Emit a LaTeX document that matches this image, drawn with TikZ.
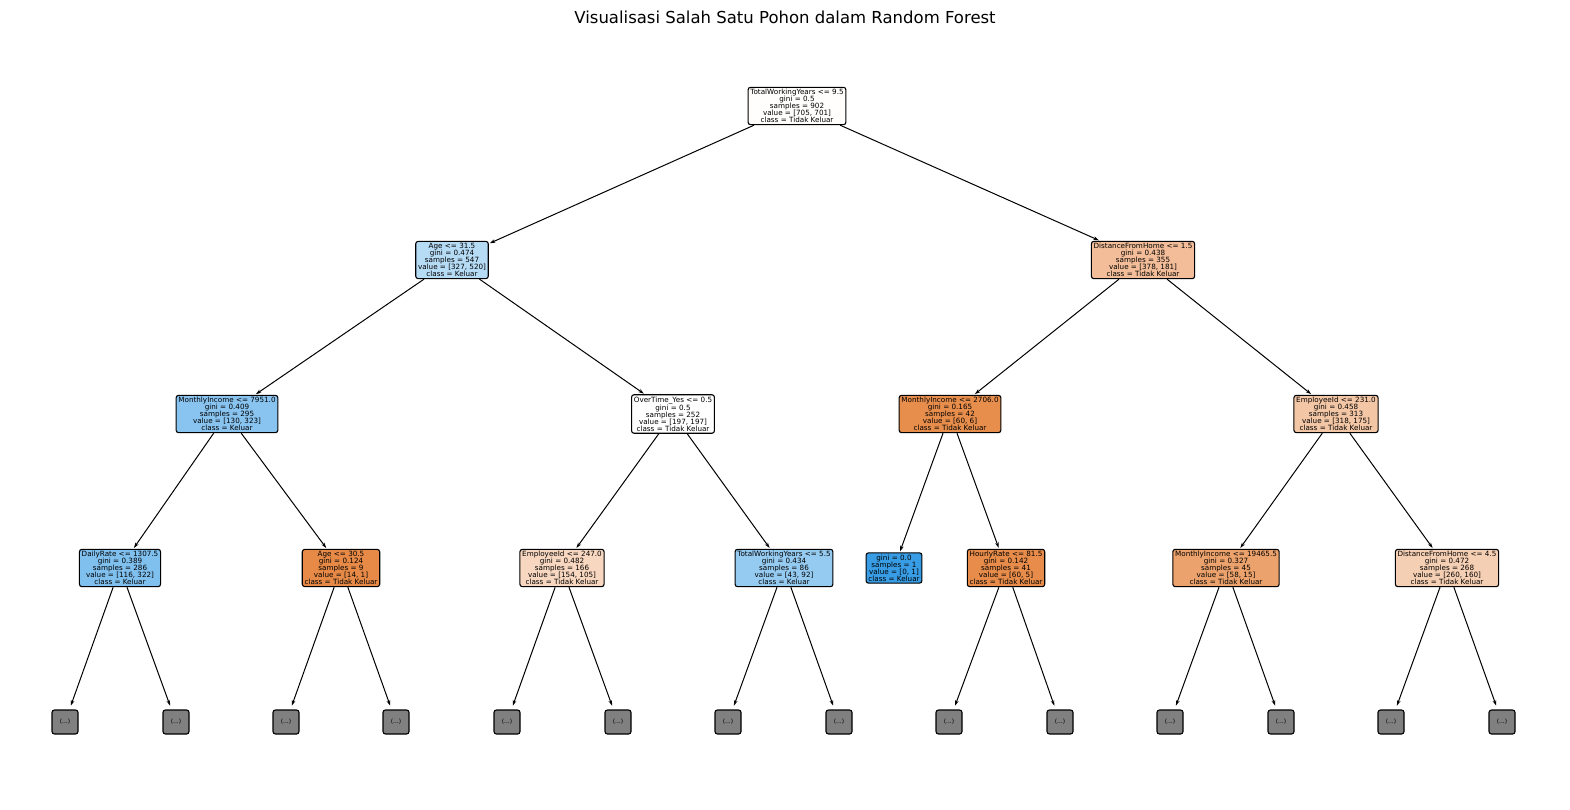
\documentclass[tikz,border=0pt]{standalone}
\usepackage{fontspec}
\setmainfont{DejaVu Sans}
\usetikzlibrary{arrows.meta}
\definecolor{cRoot}{RGB}{255,254,253}
\definecolor{cAgeA}{RGB}{182,219,245}
\definecolor{cDistA}{RGB}{242,189,152}
\definecolor{cMonA}{RGB}{137,196,240}
\definecolor{cOver}{RGB}{255,255,255}
\definecolor{cMonB}{RGB}{232,142,77}
\definecolor{cEmpA}{RGB}{243,198,166}
\definecolor{cDaily}{RGB}{128,192,238}
\definecolor{cAgeB}{RGB}{231,138,71}
\definecolor{cEmpB}{RGB}{247,215,192}
\definecolor{cTwy}{RGB}{150,203,241}
\definecolor{cPure}{RGB}{57,157,229}
\definecolor{cHour}{RGB}{231,140,74}
\definecolor{cMonC}{RGB}{236,162,108}
\definecolor{cDistB}{RGB}{245,207,179}
\definecolor{cLeaf}{RGB}{128,128,128}
\tikzset{
  treenode/.style={draw=black, line width=1.1pt, rounded corners=2.5pt, align=center,
    font=\fontsize{7.2}{7}\selectfont, inner xsep=2.3pt, inner ysep=1.9pt},
  leafnode/.style={draw=black, line width=1.1pt, rounded corners=2.5pt, fill=cLeaf,
    minimum width=26pt, minimum height=24pt, inner sep=0pt, font=\fontsize{6}{7}\selectfont},
  edge/.style={draw=black, line width=1pt, -{Stealth[length=5.5pt,width=3.6pt]}, shorten >=1pt},
  leafedge/.style={edge, shorten >=4pt}
}
\begin{document}
\begin{tikzpicture}[x=1pt,y=-1pt]
\useasboundingbox[fill=white] (0,0) rectangle (1570,810);
\node[font=\fontsize{16.5}{18}\selectfont] (title) at (785,17) {Visualisasi Salah Satu Pohon dalam Random Forest};
% level 1
\node[treenode, fill=cRoot] (n0) at (797,106) {TotalWorkingYears <= 9.5\\gini = 0.5\\samples = 902\\value = [705, 701]\\class = Tidak Keluar};
% level 2
\node[treenode, fill=cAgeA] (n1) at (452,260) {Age <= 31.5\\gini = 0.474\\samples = 547\\value = [327, 520]\\class = Keluar};
\node[treenode, fill=cDistA] (n2) at (1143,260) {DistanceFromHome <= 1.5\\gini = 0.438\\samples = 355\\value = [378, 181]\\class = Tidak Keluar};
% level 3
\node[treenode, fill=cMonA] (n3) at (227,414) {MonthlyIncome <= 7951.0\\gini = 0.409\\samples = 295\\value = [130, 323]\\class = Keluar};
\node[treenode, fill=cOver] (n4) at (673,414) {OverTime\_Yes <= 0.5\\gini = 0.5\\samples = 252\\value = [197, 197]\\class = Tidak Keluar};
\node[treenode, fill=cMonB] (n5) at (950,414) {MonthlyIncome <= 2706.0\\gini = 0.165\\samples = 42\\value = [60, 6]\\class = Tidak Keluar};
\node[treenode, fill=cEmpA] (n6) at (1336,414) {EmployeeId <= 231.0\\gini = 0.458\\samples = 313\\value = [318, 175]\\class = Tidak Keluar};
% level 4
\node[treenode, fill=cDaily] (n7) at (120,568) {DailyRate <= 1307.5\\gini = 0.389\\samples = 286\\value = [116, 322]\\class = Keluar};
\node[treenode, fill=cAgeB] (n8) at (341,568) {Age <= 30.5\\gini = 0.124\\samples = 9\\value = [14, 1]\\class = Tidak Keluar};
\node[treenode, fill=cEmpB] (n9) at (562,568) {EmployeeId <= 247.0\\gini = 0.482\\samples = 166\\value = [154, 105]\\class = Tidak Keluar};
\node[treenode, fill=cTwy] (n10) at (784,568) {TotalWorkingYears <= 5.5\\gini = 0.434\\samples = 86\\value = [43, 92]\\class = Keluar};
\node[treenode, fill=cPure] (n11) at (894,568) {gini = 0.0\\samples = 1\\value = [0, 1]\\class = Keluar};
\node[treenode, fill=cHour] (n12) at (1006,568) {HourlyRate <= 81.5\\gini = 0.142\\samples = 41\\value = [60, 5]\\class = Tidak Keluar};
\node[treenode, fill=cMonC] (n13) at (1226,568) {MonthlyIncome <= 19465.5\\gini = 0.327\\samples = 45\\value = [58, 15]\\class = Tidak Keluar};
\node[treenode, fill=cDistB] (n14) at (1447,568) {DistanceFromHome <= 4.5\\gini = 0.472\\samples = 268\\value = [260, 160]\\class = Tidak Keluar};
% leaves
\node[leafnode] (l1) at (65,722) {(...)};
\node[leafnode] (l2) at (176,722) {(...)};
\node[leafnode] (l3) at (286,722) {(...)};
\node[leafnode] (l4) at (396,722) {(...)};
\node[leafnode] (l5) at (507,722) {(...)};
\node[leafnode] (l6) at (618,722) {(...)};
\node[leafnode] (l7) at (728,722) {(...)};
\node[leafnode] (l8) at (839,722) {(...)};
\node[leafnode] (l9) at (949,722) {(...)};
\node[leafnode] (l10) at (1060,722) {(...)};
\node[leafnode] (l11) at (1170,722) {(...)};
\node[leafnode] (l12) at (1281,722) {(...)};
\node[leafnode] (l13) at (1391,722) {(...)};
\node[leafnode] (l14) at (1502,722) {(...)};
% edges
\draw[edge] (n0) -- (n1);
\draw[edge] (n0) -- (n2);
\draw[edge] (n1) -- (n3);
\draw[edge] (n1) -- (n4);
\draw[edge] (n2) -- (n5);
\draw[edge] (n2) -- (n6);
\draw[edge] (n3) -- (n7);
\draw[edge] (n3) -- (n8);
\draw[edge] (n4) -- (n9);
\draw[edge] (n4) -- (n10);
\draw[edge] (n5) -- (n11);
\draw[edge] (n5) -- (n12);
\draw[edge] (n6) -- (n13);
\draw[edge] (n6) -- (n14);
\draw[leafedge] (n7) -- (l1);
\draw[leafedge] (n7) -- (l2);
\draw[leafedge] (n8) -- (l3);
\draw[leafedge] (n8) -- (l4);
\draw[leafedge] (n9) -- (l5);
\draw[leafedge] (n9) -- (l6);
\draw[leafedge] (n10) -- (l7);
\draw[leafedge] (n10) -- (l8);
\draw[leafedge] (n12) -- (l9);
\draw[leafedge] (n12) -- (l10);
\draw[leafedge] (n13) -- (l11);
\draw[leafedge] (n13) -- (l12);
\draw[leafedge] (n14) -- (l13);
\draw[leafedge] (n14) -- (l14);
\end{tikzpicture}
\end{document}
